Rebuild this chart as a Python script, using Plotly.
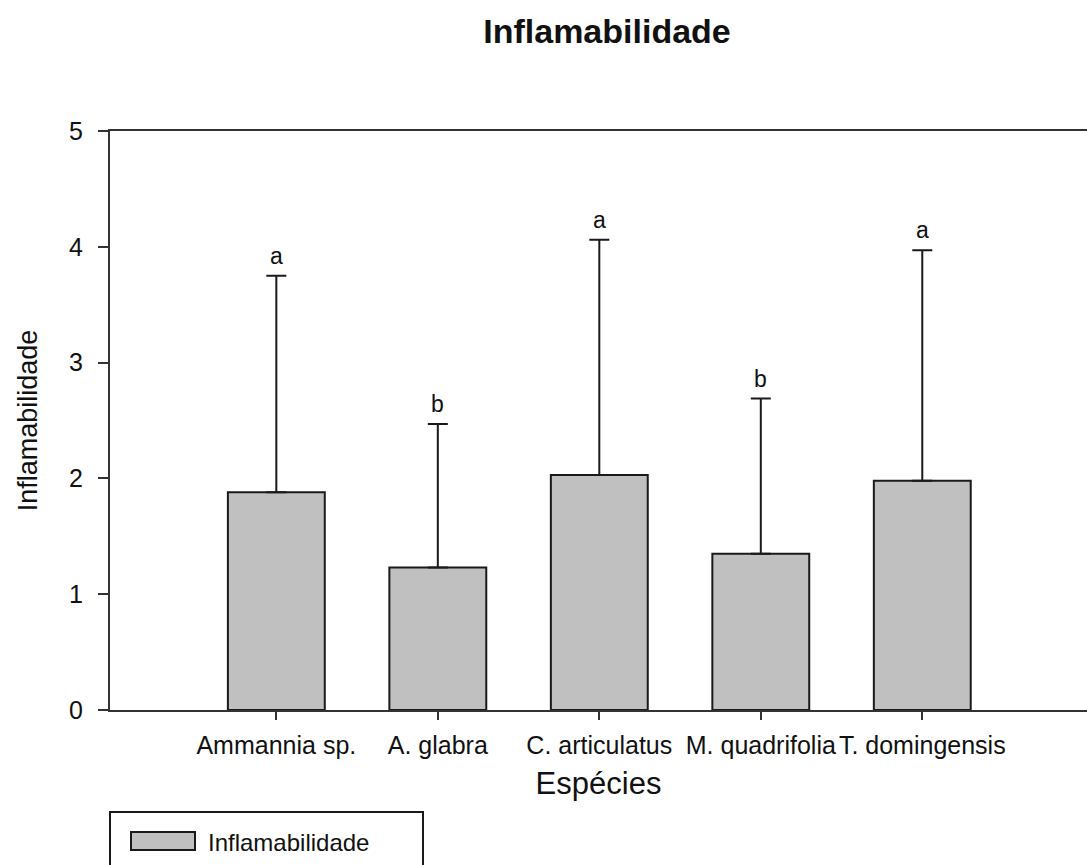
import plotly.graph_objects as go

# Espécies avaliadas e inflamabilidade média com desvio (apenas para cima)
especies = ["Ammannia sp.", "A. glabra", "C. articulatus", "M. quadrifolia", "T. domingensis"]
media = [1.88, 1.23, 2.03, 1.35, 1.98]
desvio = [1.87, 1.24, 2.03, 1.34, 1.99]
letras = ["a", "b", "a", "b", "a"]
y_ticks = [0, 1, 2, 3, 4, 5]

FONT = "Liberation Sans, Arial, sans-serif"
W, H = 1087, 865
ML, MR, MT, MB = 110, 0, 131, 155

fig = go.Figure()
fig.add_trace(go.Bar(
    x=especies,
    y=media,
    width=0.6,
    marker=dict(color="#c0c0c0", line=dict(color="#1a1a1a", width=2)),
    error_y=dict(type="data", array=desvio, arrayminus=[0] * len(desvio),
                 symmetric=False, color="#1a1a1a", thickness=2, width=10),
    name="Inflamabilidade",
    showlegend=False,
))

# Letras de significância acima das barras de erro
for esp, m, d, l in zip(especies, media, desvio, letras):
    fig.add_annotation(x=esp, y=m + d, text=l, showarrow=False,
                       yanchor="bottom", yshift=5,
                       font=dict(family=FONT, size=23, color="#111"))

# Legenda desenhada abaixo do gráfico
pw = W - ML - MR
ph = H - MT - MB
def px_x(v):
    return (v - ML) / pw
def px_y(v):
    return (H - MB - v) / ph

fig.add_shape(type="rect", xref="paper", yref="paper",
              x0=px_x(110), x1=px_x(423), y0=px_y(812), y1=px_y(880),
              line=dict(color="#1a1a1a", width=2), fillcolor="white")
fig.add_shape(type="rect", xref="paper", yref="paper",
              x0=px_x(131), x1=px_x(195), y0=px_y(832), y1=px_y(850),
              line=dict(color="#1a1a1a", width=2), fillcolor="#c0c0c0")
fig.add_annotation(xref="paper", yref="paper", x=px_x(206), y=px_y(842),
                   text="Inflamabilidade", showarrow=False,
                   xanchor="left", yanchor="middle",
                   font=dict(family=FONT, size=24, color="#111"))

fig.update_layout(
    width=W, height=H,
    margin=dict(l=ML, r=MR, t=MT, b=MB),
    plot_bgcolor="white", paper_bgcolor="white",
    font=dict(family=FONT, color="#111"),
    title=dict(text="<b>Inflamabilidade</b>", x=607 / W, y=1 - 31 / H,
               xanchor="center", yanchor="middle",
               font=dict(family=FONT, size=34, color="#111")),
    xaxis=dict(
        range=[-1.03, 5.02], automargin=False, tickangle=0,
        showline=True, linecolor="#333", linewidth=2, mirror=True,
        ticks="outside", ticklen=8, tickwidth=2, tickcolor="#333",
        showgrid=False, zeroline=False,
        tickfont=dict(family=FONT, size=25, color="#111"),
        ticklabelstandoff=4,
        title=dict(text="Espécies", font=dict(family=FONT, size=31, color="#111"),
                   standoff=14),
    ),
    yaxis=dict(
        range=[0, 5], tickvals=y_ticks, automargin=False,
        showline=True, linecolor="#333", linewidth=2,
        ticks="outside", ticklen=10, tickwidth=2, tickcolor="#333",
        showgrid=False, zeroline=False,
        tickfont=dict(family=FONT, size=25, color="#111"),
        ticklabelstandoff=10,
        title=dict(text="Inflamabilidade", font=dict(family=FONT, size=27, color="#111"),
                   standoff=24),
    ),
)

fig.write_html("out.html")
